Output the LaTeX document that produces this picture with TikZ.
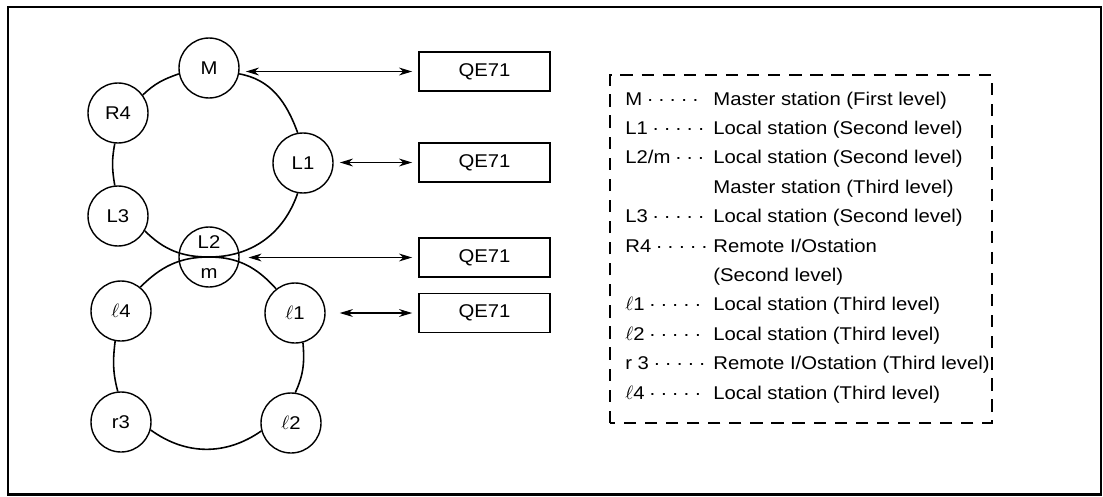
\documentclass[tikz,border=0pt]{standalone}
\usepackage{fontspec}
\setmainfont[FakeStretch=1.1]{Liberation Sans}
\usetikzlibrary{arrows.meta}

\newcommand\stdots[1]{\foreach\k in {1,...,#1}{\hspace{2.6pt}\textperiodcentered}}

\tikzset{
	station/.style={circle,draw,line width=0.8pt,minimum size=1.2cm,inner sep=0pt,
		font=\fontsize{10.5}{12.6}\selectfont},
	qebox/.style={draw,line width=0.8pt,minimum width=2.62cm,minimum height=0.78cm,
		font=\fontsize{10.5}{12.6}\selectfont},
	ring/.style={line width=0.9pt},
	link/.style={<->,line width=0.6pt,shorten <=3.5pt,shorten >=3.5pt},
	legtext/.style={anchor=base west,inner sep=0pt,font=\fontsize{10.5}{12.6}\selectfont}
}

\begin{document}
\begin{tikzpicture}[>={Stealth[length=7.5pt,width=4.5pt]}]
		\useasboundingbox (0,0) rectangle (22.06,9.92);
		
		% frame
		\draw[line width=1.3pt] (0.16,0.03) rectangle (22.02,9.78);
		
		% upper ring
		\node[station] (M) at (4.18,8.56) {M};
		\node[station] (R4) at (2.36,7.66) {R4};
		\node[station] (L1) at (6.06,6.66) {L1};
		\node[station] (L3) at (2.36,5.60) {L3};
		\node[station,align=center] (L2) at (4.18,4.78) {L2\\[4pt]m};
		
		\draw[ring] (M.-11) to[out=-10,in=110] (L1.100);
		\draw[ring] (L1.260) to[out=251,in=0] (L2.center) to[out=180,in=315] (L3.-29);
		\draw[ring] (L3.96) to[out=100,in=259] (R4.264);
		\draw[ring] (R4.36) to[out=44,in=199] (M.191);
		
		% lower ring
		\node[station] (l4) at (2.42,3.70) {$\ell$4};
		\node[station] (l1) at (5.90,3.66) {$\ell$1};
		\node[station] (r3) at (2.42,1.48) {r3};
		\node[station] (l2) at (5.82,1.46) {$\ell$2};
		
		\draw[ring] (l4.51) to[out=45,in=180] (L2.center) to[out=0,in=132] (l1.128);
		\draw[ring] (l1.-75) to[out=-85,in=65] (l2.82);
		\draw[ring] (l2.195) to[out=215,in=-36] (r3.-15);
		\draw[ring] (r3.96) to[out=105,in=263] (l4.259);
		
		% QE71 modules
		\node[qebox] (qe1) at (9.69,8.49) {QE71};
		\node[qebox] (qe2) at (9.69,6.67) {QE71};
		\node[qebox] (qe3) at (9.69,4.77) {QE71};
		\node[qebox] (qe4) at (9.69,3.66) {QE71};
		
		\draw[link] (qe1.west -| M.east) -- (qe1.west);
		\draw[link] (qe2.west -| L1.east) -- (qe2.west);
		\draw[link,shorten <=5pt] (qe3.west -| L2.east) -- (qe3.west);
		\draw[link,shorten <=8pt] (qe4.west -| l1.east) -- (qe4.west);
		
		% legend
		\draw[line width=1.1pt,dash pattern=on 7pt off 5pt] (12.2,1.46) rectangle (19.84,8.42);
		\foreach \txt [count=\i] in {{Master station (First level)},{Local station (Second level)},
			{Local station (Second level)},{Master station (Third level)},{Local station (Second level)},
			{Remote I/Ostation},{(Second level)},{Local station (Third level)},{Local station (Third level)},
			{Remote I/Ostation (Third level)},{Local station (Third level)}}
		\node[legtext] (desc\i) at (14.26,{7.82-0.588*(\i-1)}) {\txt};
		\foreach \lab/\row in {{M\stdots5}/1,{L1\stdots5}/2,{L2/m\stdots3}/3,{L3\stdots5}/5,
			{R4\stdots5}/6,{$\ell$1\stdots5}/8,{$\ell$2\stdots5}/9,{r 3\stdots5}/10,{$\ell$4\stdots5}/11}
		\node[legtext] (key\row) at (12.5,{7.82-0.588*(\row-1)}) {\lab};
		
	\end{tikzpicture}
\end{document}
